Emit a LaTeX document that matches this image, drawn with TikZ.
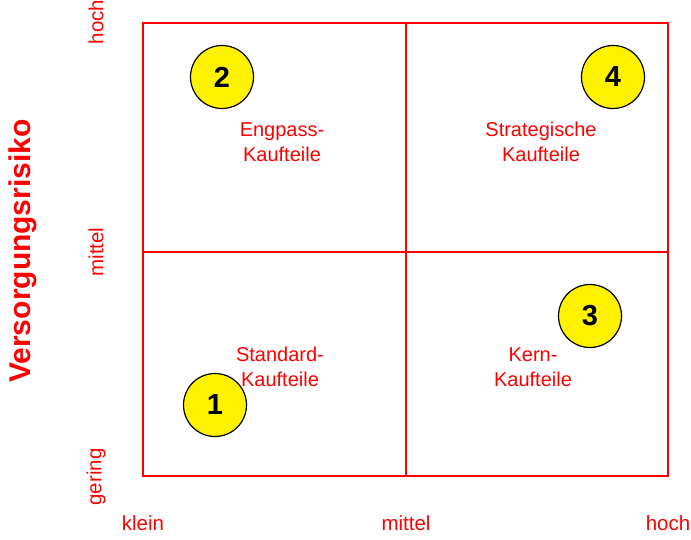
\documentclass[tikz,border=0pt]{standalone}
\usepackage{fontspec}
\setmainfont{Liberation Sans}
\begin{document}
\begin{tikzpicture}[x=1pt,y=-1pt,
  grid/.style={draw=red,line width=2pt},
  lbl/.style={text=red,font=\fontsize{20}{25}\selectfont,align=center,inner sep=0pt},
  axlbl/.style={text=red,font=\fontsize{20.5}{22}\selectfont,inner sep=0pt},
  num/.style={circle,draw=black,line width=1.2pt,fill=yellow,minimum size=63pt,inner sep=0pt,font=\fontsize{29}{29}\selectfont\bfseries}]
\useasboundingbox (0,0) rectangle (691,540);
% matrix frame
\coordinate (tl) at (143,23);
\coordinate (br) at (668,476);
\draw[grid] (tl) rectangle (br);
\draw[grid] (406,23) -- (406,476);
\draw[grid] (143,252) -- (668,252);
% quadrant labels
\node[lbl] (q2) at (282,142) {Engpass-\\Kaufteile};
\node[lbl] (q4) at (541,142) {Strategische\\Kaufteile};
\node[lbl] (q1) at (280,367) {Standard-\\Kaufteile};
\node[lbl] (q3) at (533,367) {Kern-\\Kaufteile};
% numbered markers
\node[num] (n2) at (222,77) {2};
\node[num] (n4) at (613,77) {4};
\node[num] (n3) at (590,316) {3};
\node[num] (n1) at (215,405) {1};
% vertical axis
\node[axlbl,rotate=90] (yh) at (96,22) {hoch};
\node[axlbl,rotate=90] (ym) at (96,252) {mittel};
\node[axlbl,rotate=90] (yg) at (96,477) {gering};
\node[text=red,font=\fontsize{30}{30}\selectfont\bfseries,rotate=90,inner sep=0pt] (ytitle) at (23,251) {Versorgungsrisiko};
% horizontal axis
\node[axlbl] (xk) at (143,523) {klein};
\node[axlbl] (xm) at (406,523) {mittel};
\node[axlbl] (xh) at (668,523) {hoch};
\end{tikzpicture}
\end{document}
